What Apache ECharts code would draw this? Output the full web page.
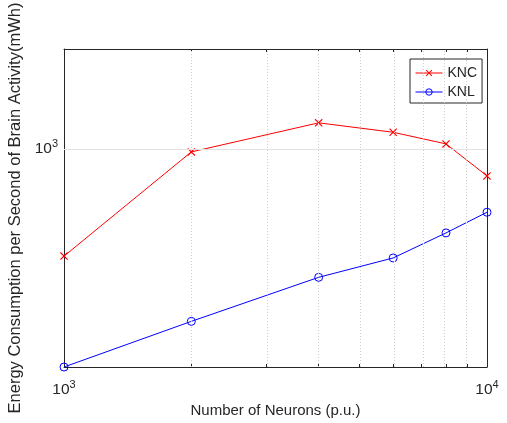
<!DOCTYPE html>
<html>
<head>
<meta charset="utf-8">
<script src="https://cdn.jsdelivr.net/npm/echarts@6/dist/echarts.min.js"></script>
<style>
  html, body { margin: 0; padding: 0; background: #fff; }
  #chart { width: 507px; height: 423px; }
</style>
</head>
<body>
<div id="chart"></div>
<script>
// data (log-log plot)
const neurons = [1000, 2000, 4000, 6000, 8000, 10000];
const knc = [475, 979, 1198, 1122, 1035, 829];
const knl = [220, 302, 410, 469, 558, 644];

const xTicks = [1000, 2000, 3000, 4000, 5000, 6000, 7000, 8000, 9000, 10000];
const xLabelTicks = [1000, 10000];
const xGrid = [2000, 3000, 4000, 5000, 6000, 7000, 8000, 9000];
const yTicks = [1000];
const yRange = [220, 2000];
const xRange = [1000, 10000];

const FONT = '"Liberation Sans", Arial, Helvetica, sans-serif';
const TEXT = '#262626';
const AXIS = '#262626';
const lg = v => Math.log10(v);

// superscript power-of-ten labels
const powRich = {
  b: { fontSize: 15.5, color: TEXT, fontFamily: FONT },
  s: { fontSize: 11, color: TEXT, fontFamily: FONT, padding: [0, 0, 10, 0] }
};
const powLabel = v => '{b|10}{s|' + Math.round(v) + '}';

const X_MARK = 'path://M0,1L1,0L5,4L9,0L10,1L6,5L10,9L9,10L5,6L1,10L0,9L4,5Z';

function axisBase(range, ticks, tickLen) {
  return {
    type: 'value',
    min: lg(range[0]),
    max: lg(range[1]),
    axisLine: { show: true, lineStyle: { color: AXIS, width: 1 } },
    axisTick: {
      show: true,
      inside: true,
      length: tickLen,
      customValues: ticks.map(lg),
      lineStyle: { color: AXIS, width: 1 }
    },
    splitLine: { show: false }
  };
}

const chart = echarts.init(document.getElementById('chart'));
chart.setOption({
  animation: false,
  backgroundColor: '#fff',
  grid: { left: 64, right: 20, top: 49, bottom: 56, containLabel: false, outerBoundsMode: 'none' },
  legend: {
    data: ['KNC', 'KNL'],
    orient: 'vertical',
    left: 410,
    top: 59,
    padding: [6, 5, 3, 5],
    itemGap: 3,
    itemWidth: 27,
    itemHeight: 8,
    borderColor: AXIS,
    borderWidth: 1,
    backgroundColor: '#fff',
    selectedMode: false,
    lineStyle: { width: 1 },
    itemStyle: { borderWidth: 1 },
    textStyle: { fontSize: 14, color: TEXT, fontFamily: FONT, lineHeight: 16 }
  },
  xAxis: [
    Object.assign(axisBase(xRange, xTicks, 3), {
      position: 'bottom',
      axisLabel: {
        customValues: xLabelTicks.map(lg),
        formatter: powLabel,
        rich: powRich,
        margin: 12
      },
      name: 'Number of Neurons (p.u.)',
      nameLocation: 'middle',
      nameGap: 36,
      nameTextStyle: { fontSize: 15, color: TEXT, fontFamily: FONT }
    }),
    Object.assign(axisBase(xRange, xTicks, 3), {
      position: 'top',
      axisLabel: { show: false }
    })
  ],
  yAxis: [
    Object.assign(axisBase(yRange, yTicks, 5), {
      position: 'left',
      axisLabel: {
        customValues: yTicks.map(lg),
        formatter: powLabel,
        rich: powRich,
        margin: 6
      },
      name: 'Energy Consumption per Second of Brain Activity(mWh)',
      nameLocation: 'middle',
      nameRotate: 90,
      nameGap: 29,
      nameTextStyle: { fontSize: 16.5, color: TEXT, fontFamily: FONT }
    }),
    Object.assign(axisBase(yRange, yTicks, 5), {
      position: 'right',
      axisLabel: { show: false }
    })
  ],
  series: [
    {
      name: 'grid',
      type: 'line',
      data: [],
      silent: true,
      z: 1,
      markLine: {
        silent: true,
        symbol: ['none', 'none'],
        label: { show: false },
        data: xGrid.map(v => ({ xAxis: lg(v), lineStyle: { color: '#cfcfcf', type: [1, 2], width: 1 } }))
          .concat(yTicks.map(v => ({ yAxis: lg(v), lineStyle: { color: '#e2e2e2', type: 'solid', width: 1 } })))
      }
    },
    {
      name: 'KNC',
      type: 'line',
      z: 3,
      clip: false,
      data: neurons.map((n, i) => [lg(n), lg(knc[i])]),
      symbol: X_MARK,
      symbolSize: 8,
      lineStyle: { color: '#ff0000', width: 1 },
      itemStyle: { color: '#ff0000' }
    },
    {
      name: 'KNL',
      type: 'line',
      z: 3,
      clip: false,
      data: neurons.map((n, i) => [lg(n), lg(knl[i])]),
      symbol: 'circle',
      symbolSize: 8,
      lineStyle: { color: '#0000ff', width: 1 },
      itemStyle: { color: 'rgba(0,0,0,0)', borderColor: '#0000ff', borderWidth: 1 }
    }
  ]
});
</script>
</body>
</html>
